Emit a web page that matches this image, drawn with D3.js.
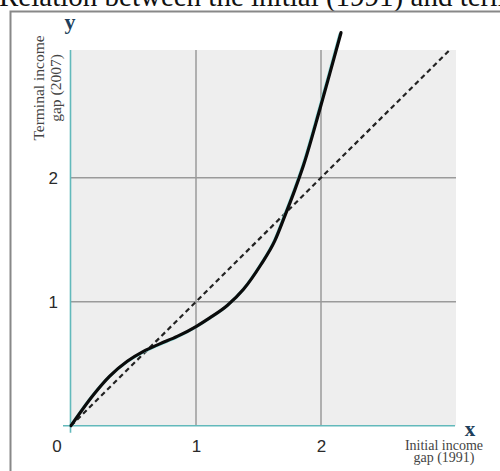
<!DOCTYPE html>
<html>
<head>
<meta charset="utf-8">
<script src="https://cdn.jsdelivr.net/npm/d3@7"></script>
<style>
  body { margin: 0; background: #fff; }
  svg { display: block; }
</style>
</head>
<body>
<svg width="500" height="471"></svg>
<script>
// curve (initial gap -> terminal gap)
var gapX = [0, 0.18, 0.31, 0.45, 0.58, 0.71, 0.85, 1.0, 1.11, 1.25, 1.38, 1.52, 1.63, 1.71, 1.79, 1.86, 1.99, 2.07, 2.16];
var gapY = [0, 0.25, 0.40, 0.52, 0.60, 0.66, 0.72, 0.80, 0.87, 0.97, 1.10, 1.30, 1.49, 1.69, 1.90, 2.10, 2.55, 2.84, 3.17];
var xTicks = [1, 2];
var yTicks = [1, 2];
var diag = [0, 3.08];

var svg = d3.select("svg"),
    width = +svg.attr("width"),
    height = +svg.attr("height");

var x = d3.scaleLinear().domain([0, 3.08]).range([71, 456]);
var y = d3.scaleLinear().domain([0, 3.03]).range([425.7, 50]);

// title, cut at the top of the picture
svg.append("text")
    .attr("x", -1)
    .attr("y", 6)
    .attr("font-family", "Liberation Serif, Times New Roman, serif")
    .attr("font-size", 29)
    .attr("fill", "#111")
    .text("Relation between the initial (1991) and terminal (2007) income gaps");

// frame
svg.append("path")
    .attr("d", "M10.5," + (height + 5) + "V11.5H" + (width + 5))
    .attr("fill", "none")
    .attr("stroke", "#888")
    .attr("stroke-width", 2);

// plot background
svg.append("rect")
    .attr("x", x(0))
    .attr("y", y(3.03))
    .attr("width", x(3.08) - x(0))
    .attr("height", y(0) - y(3.03))
    .attr("fill", "#eeeeee");

// grid
svg.append("g").selectAll("line")
  .data(xTicks)
  .enter().append("line")
    .attr("x1", d => x(d)).attr("x2", d => x(d))
    .attr("y1", y(3.03)).attr("y2", y(0))
    .attr("stroke", "#9a9a9a").attr("stroke-width", 1.5);

svg.append("g").selectAll("line")
  .data(yTicks)
  .enter().append("line")
    .attr("y1", d => y(d)).attr("y2", d => y(d))
    .attr("x1", x(0)).attr("x2", x(3.08))
    .attr("stroke", "#9a9a9a").attr("stroke-width", 1.5);

// clip for the dashed diagonal
svg.append("clipPath").attr("id", "plot")
  .append("rect")
    .attr("x", x(0)).attr("y", y(3.03))
    .attr("width", x(3.08) - x(0)).attr("height", y(0) - y(3.03));

svg.append("line")
    .attr("clip-path", "url(#plot)")
    .attr("x1", x(diag[0])).attr("y1", y(diag[0]))
    .attr("x2", x(diag[1])).attr("y2", y(diag[1]))
    .attr("stroke", "#222")
    .attr("stroke-width", 2.2)
    .attr("stroke-dasharray", "5,3.5");

// axes lines (teal)
svg.append("line")
    .attr("x1", x(0) - 0.5).attr("x2", x(0) - 0.5)
    .attr("y1", y(3.03)).attr("y2", y(0) + 7)
    .attr("stroke", "#62b9bb").attr("stroke-width", 1.6);
svg.append("line")
    .attr("x1", x(0) - 8).attr("x2", x(3.08) - 1)
    .attr("y1", y(0)).attr("y2", y(0))
    .attr("stroke", "#62b9bb").attr("stroke-width", 1.6);

// tick labels
var xAxis = svg.append("g")
    .attr("transform", "translate(0," + y(0) + ")")
    .call(d3.axisBottom(x).tickValues(xTicks).tickSize(0).tickPadding(14).tickFormat(d3.format("d")));
var yAxis = svg.append("g")
    .attr("transform", "translate(" + x(0) + ",0)")
    .call(d3.axisLeft(y).tickValues(yTicks).tickSize(0).tickPadding(13).tickFormat(d3.format("d")));
[xAxis, yAxis].forEach(function(a) {
  a.select(".domain").remove();
  a.selectAll("text")
    .attr("font-family", "Liberation Sans, Arial, sans-serif")
    .attr("font-size", 17)
    .attr("fill", "#2a2a2a");
});
svg.append("text")
    .attr("x", x(0) - 14)
    .attr("y", y(0) + 14)
    .attr("dy", "0.71em")
    .attr("text-anchor", "middle")
    .attr("font-family", "Liberation Sans, Arial, sans-serif")
    .attr("font-size", 17)
    .attr("fill", "#2a2a2a")
    .text("0");

// the curve
var pts = gapX.map((d, i) => [d, gapY[i]]);
var line = d3.line()
    .x(d => x(d[0]))
    .y(d => y(d[1]))
    .curve(d3.curveMonotoneX);

svg.append("path")
    .datum(pts)
    .attr("d", line)
    .attr("transform", "translate(-1,1)")
    .attr("fill", "none")
    .attr("stroke", "#8fe0df")
    .attr("stroke-width", 3);
svg.append("path")
    .datum(pts)
    .attr("d", line)
    .attr("fill", "none")
    .attr("stroke", "#0b0b0b")
    .attr("stroke-width", 3.2)
    .attr("stroke-linecap", "round");

// axis names
svg.append("text")
    .attr("x", 70).attr("y", 29)
    .attr("text-anchor", "middle")
    .attr("font-family", "Liberation Serif, Times New Roman, serif")
    .attr("font-weight", "bold")
    .attr("font-size", 22)
    .attr("fill", "#1e3f5c")
    .text("y");
svg.append("text")
    .attr("x", 470).attr("y", 436)
    .attr("text-anchor", "middle")
    .attr("font-family", "Liberation Serif, Times New Roman, serif")
    .attr("font-weight", "bold")
    .attr("font-size", 21)
    .attr("fill", "#1e3f5c")
    .text("x");

var ytitle = svg.append("text")
    .attr("transform", "translate(44,88) rotate(-90)")
    .attr("text-anchor", "middle")
    .attr("font-family", "Liberation Serif, Times New Roman, serif")
    .attr("font-size", 15.5)
    .attr("fill", "#444");
ytitle.append("tspan").attr("x", 0).attr("y", 0).text("Terminal income");
ytitle.append("tspan").attr("x", 0).attr("y", 17).text("gap (2007)");

var xtitle = svg.append("text")
    .attr("text-anchor", "middle")
    .attr("font-family", "Liberation Serif, Times New Roman, serif")
    .attr("font-size", 14)
    .attr("fill", "#444");
xtitle.append("tspan").attr("x", 444).attr("y", 450).text("Initial income");
xtitle.append("tspan").attr("x", 444).attr("y", 462).text("gap (1991)");
</script>
</body>
</html>
